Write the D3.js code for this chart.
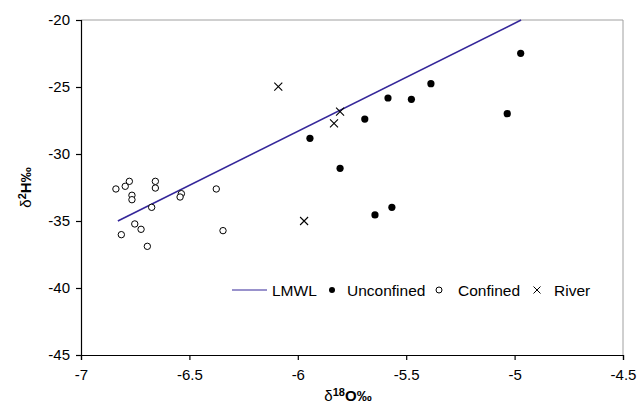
<!DOCTYPE html>
<html>
<head>
<meta charset="utf-8">
<script src="https://cdn.jsdelivr.net/npm/d3@7"></script>
<style>
  body { margin: 0; background: #fff; }
  svg { font-family: "Liberation Sans", Arial, sans-serif; }
</style>
</head>
<body>
<div id="chart"></div>
<script>
// Tick values
const xTicks = [-7, -6.5, -6, -5.5, -5, -4.5];
const yTicks = [-20, -25, -30, -35, -40, -45];

// LMWL end points
const lmwlX = [-6.83, -4.97];
const lmwlY = [-35.0, -20.0];

// Unconfined samples
const unconfinedX = [-5.944, -5.805, -5.691, -5.584, -5.476, -5.386, -5.034, -5.644, -5.566, -4.972];
const unconfinedY = [-28.83, -31.07, -27.39, -25.82, -25.92, -24.75, -26.99, -34.55, -33.98, -22.49];

// Confined samples
const confinedX = [-6.839, -6.796, -6.777, -6.765, -6.765, -6.657, -6.657, -6.537, -6.543, -6.674,
                   -6.376, -6.345, -6.814, -6.752, -6.723, -6.694];
const confinedY = [-32.61, -32.41, -32.04, -33.08, -33.41, -32.04, -32.54, -32.96, -33.21, -33.98,
                   -32.61, -35.72, -36.02, -35.22, -35.62, -36.89];

// River samples
const riverX = [-6.090, -5.805, -5.833, -5.971];
const riverY = [-24.98, -26.84, -27.71, -35.0];

const legendLabels = ["LMWL", "Unconfined", "Confined", "River"];

let width = 542, height = 335;
let margin = { top: 20, left: 81, right: 21, bottom: 51 };
let lineColor = "#35279a";

let svg = d3.select("#chart")
            .append("svg")
            .attr("width", 644)
            .attr("height", 406)
            .append("g")
            .attr("transform", `translate(${margin.left},${margin.top})`);

let x = d3.scaleLinear().domain([-7, -4.5]).range([0, width]);
let y = d3.scaleLinear().domain([-45, -20]).range([height, 0]);

// Top and right frame (grey)
svg.append("path")
   .attr("d", `M0,0H${width}V${height}`)
   .attr("fill", "none")
   .attr("stroke", "#a0a0a0")
   .attr("stroke-width", 1);

// X axis
let xAxis = svg.append("g")
   .attr("transform", `translate(0,${height})`)
   .call(d3.axisBottom(x).tickValues(xTicks).tickFormat(d => String(d))
           .tickSizeOuter(0).tickSize(5).tickPadding(9));

// Y axis
let yAxis = svg.append("g")
   .call(d3.axisLeft(y).tickValues(yTicks).tickFormat(d => String(d))
           .tickSizeOuter(0).tickSize(5).tickPadding(6));

[xAxis, yAxis].forEach(g => {
   g.selectAll("path, line").attr("stroke", "#000").attr("stroke-width", 1.2);
   g.selectAll("text").attr("fill", "#000")
    .style("font-size", "15px")
    .style("font-family", "'Liberation Sans', Arial, sans-serif");
});

// LMWL line
let lmwl = lmwlX.map((d, i) => [d, lmwlY[i]]);
svg.append("path")
   .datum(lmwl)
   .attr("d", d3.line().x(d => x(d[0])).y(d => y(d[1])))
   .attr("fill", "none")
   .attr("stroke", lineColor)
   .attr("stroke-width", 1.6);

// Confined (open circles)
svg.selectAll(".confined")
   .data(confinedX.map((d, i) => [d, confinedY[i]]))
   .enter()
   .append("circle")
   .attr("class", "confined")
   .attr("cx", d => x(d[0]))
   .attr("cy", d => y(d[1]))
   .attr("r", 3.2)
   .attr("fill", "#fff")
   .attr("stroke", "#000")
   .attr("stroke-width", 1);

// Unconfined (filled dots)
svg.selectAll(".unconfined")
   .data(unconfinedX.map((d, i) => [d, unconfinedY[i]]))
   .enter()
   .append("circle")
   .attr("class", "unconfined")
   .attr("cx", d => x(d[0]))
   .attr("cy", d => y(d[1]))
   .attr("r", 3.6)
   .attr("fill", "#000");

// River (crosses)
let cross = s => `M${-s},${-s}L${s},${s}M${-s},${s}L${s},${-s}`;
svg.selectAll(".river")
   .data(riverX.map((d, i) => [d, riverY[i]]))
   .enter()
   .append("path")
   .attr("class", "river")
   .attr("transform", d => `translate(${x(d[0])},${y(d[1])})`)
   .attr("d", cross(4))
   .attr("stroke", "#000")
   .attr("stroke-width", 1.1);

// Axis titles
svg.append("text")
   .attr("x", width / 2 - 4)
   .attr("y", height + 46)
   .attr("text-anchor", "middle")
   .style("font-size", "15px")
   .html('<tspan>δ</tspan><tspan dy="-5" font-size="11" font-weight="bold">18</tspan><tspan dy="5" font-weight="bold">O‰</tspan>');

svg.append("text")
   .attr("transform", `translate(-50,${height / 2}) rotate(-90)`)
   .attr("text-anchor", "middle")
   .style("font-size", "15px")
   .html('<tspan>δ</tspan><tspan dy="-5" font-size="11" font-weight="bold">2</tspan><tspan dy="5" font-weight="bold">H‰</tspan>');

// Legend
let legend = svg.append("g").attr("transform", `translate(${232 - margin.left},${290 - margin.top})`);
legend.append("line")
      .attr("x1", 0).attr("x2", 35).attr("y1", 0).attr("y2", 0)
      .attr("stroke", lineColor).attr("stroke-width", 1.2);
legend.append("circle").attr("cx", 100).attr("cy", 0).attr("r", 3).attr("fill", "#000");
legend.append("circle").attr("cx", 207).attr("cy", 0).attr("r", 3)
      .attr("fill", "#fff").attr("stroke", "#000").attr("stroke-width", 1);
legend.append("path").attr("transform", "translate(305,0)").attr("d", cross(3.5))
      .attr("stroke", "#000").attr("stroke-width", 1);

let legendX = [40, 115, 226, 322];
legend.selectAll(".leg-text")
      .data(legendLabels)
      .enter()
      .append("text")
      .attr("x", (d, i) => legendX[i])
      .attr("y", 5.5)
      .style("font-size", "15.5px")
      .text(d => d);
</script>
</body>
</html>
